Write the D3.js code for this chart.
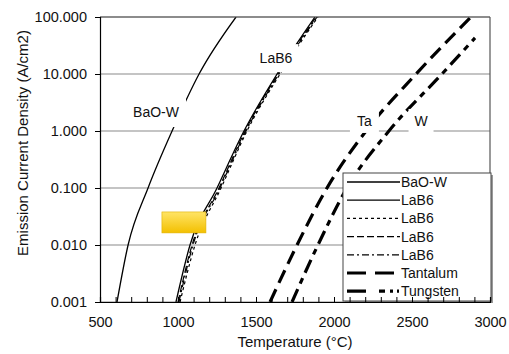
<!DOCTYPE html>
<html lang="en">
<head>
  <meta charset="UTF-8">
  <title>Emission Current Density vs Temperature</title>
  <script src="https://d3js.org/d3.v7.min.js"></script>
  <style>
    body { margin: 0; background: #fff; font-family: Arial, "Liberation Sans", sans-serif; }
    svg text { font-family: Arial, "Liberation Sans", sans-serif; fill: #111; }
  </style>
</head>
<body>
  <svg width="509" height="354"></svg>

  <script>
    // values (temperature in C at each current density)
    const jDecades = [0.001, 0.01, 0.1, 1, 10, 100];
    const tBaOW   = [609, 680, 808, 962, 1135, 1372];
    const tLaB6a  = [987, 1077, 1250, 1423, 1635, 1878];
    const tLaB6b  = [1013, 1109, 1276, 1442, 1654, 1897];
    const tLaB6c  = [1000, 1090, 1263, 1430, 1641, 1885];
    const tLaB6d  = [1006, 1096, 1269, 1436, 1647, 1891];
    const tTa     = [1590, 1763, 1955, 2205, 2526, 2878];
    const tW      = [1731, 1897, 2083, 2352, 2692, 2904];
    const jW      = [0.001, 0.01, 0.1, 1, 10, 42.9];

    const legendNames = ["BaO-W", "LaB6", "LaB6", "LaB6", "LaB6", "Tantalum", "Tungsten"];
    const xTicks = [500, 1000, 1500, 2000, 2500, 3000];
    const yTicks = [0.001, 0.01, 0.1, 1, 10, 100];

    const margin = { top: 17, right: 19, bottom: 52, left: 100 },
          width = 509 - margin.left - margin.right,
          height = 354 - margin.top - margin.bottom;

    const svg = d3.select("svg");
    const g = svg.append("g").attr("transform", `translate(${margin.left},${margin.top})`);

    const x = d3.scaleLinear().domain([500, 3000]).range([0, width]);
    const y = d3.scaleLog().domain([0.001, 100]).range([height, 0]);

    const series = [
      { t: tBaOW,  j: jDecades, w: 1.3, dash: null },
      { t: tLaB6a, j: jDecades, w: 1.3, dash: null },
      { t: tLaB6b, j: jDecades, w: 1.2, dash: "3,3" },
      { t: tLaB6c, j: jDecades, w: 1.2, dash: "7,3" },
      { t: tLaB6d, j: jDecades, w: 1.2, dash: "7,3,2,3" },
      { t: tTa,    j: jDecades, w: 3.2, dash: "14,7" },
      { t: tW,     j: jW,       w: 3.2, dash: "14,6,6,6" }
    ];

    // gridlines
    g.selectAll("line.grid")
      .data(yTicks)
      .enter().append("line")
      .attr("class", "grid")
      .attr("x1", 0).attr("x2", width)
      .attr("y1", d => y(d)).attr("y2", d => y(d))
      .attr("stroke", "#8a8a8a").attr("stroke-width", 1.2);

    g.append("clipPath").attr("id", "plotClip")
      .append("rect").attr("width", width).attr("height", height);

    const line = d3.line()
      .x(d => x(d[0]))
      .y(d => y(d[1]))
      .curve(d3.curveMonotoneX);

    const curves = g.append("g").attr("clip-path", "url(#plotClip)");
    series.forEach(s => {
      curves.append("path")
        .attr("d", line(s.t.map((t, i) => [t, s.j[i]])))
        .attr("fill", "none")
        .attr("stroke", "#000")
        .attr("stroke-width", s.w)
        .attr("stroke-dasharray", s.dash);
    });

    // data labels with white boxes
    const labels = [
      { text: "BaO-W", t: 859,  j: 2.15, bw: 60, bh: 30 },
      { text: "LaB6",  t: 1628, j: 19,   bw: 45, bh: 28 },
      { text: "Ta",    t: 2195, j: 1.5,  bw: 29, bh: 24 },
      { text: "W",     t: 2558, j: 1.5,  bw: 25, bh: 24 }
    ];
    labels.forEach(l => {
      g.append("rect")
        .attr("x", x(l.t) - l.bw / 2).attr("y", y(l.j) - l.bh / 2)
        .attr("width", l.bw).attr("height", l.bh)
        .attr("fill", "#fff");
      g.append("text")
        .attr("x", x(l.t)).attr("y", y(l.j) + 5)
        .attr("text-anchor", "middle")
        .attr("font-size", "14px")
        .text(l.text);
    });

    // yellow marker box
    const defs = svg.append("defs");
    const grad = defs.append("linearGradient").attr("id", "yel")
      .attr("x1", 0).attr("y1", 0).attr("x2", 0).attr("y2", 1);
    grad.append("stop").attr("offset", "0%").attr("stop-color", "#ffe466");
    grad.append("stop").attr("offset", "100%").attr("stop-color", "#f3c000");
    g.append("rect")
      .attr("x", x(897)).attr("y", y(0.038))
      .attr("width", x(1179) - x(897)).attr("height", y(0.0163) - y(0.038))
      .attr("fill", "url(#yel)")
      .attr("stroke", "#e0b000").attr("stroke-width", 0.6);

    // plot border (top / right)
    g.append("line").attr("x1", 0).attr("x2", width).attr("y1", 0).attr("y2", 0)
      .attr("stroke", "#555").attr("stroke-width", 1.2);
    g.append("line").attr("x1", width).attr("x2", width).attr("y1", 0).attr("y2", height)
      .attr("stroke", "#555").attr("stroke-width", 1.2);

    // legend
    const lg = g.append("g").attr("transform", `translate(${343 - margin.left},${173 - margin.top})`);
    lg.append("rect").attr("x", 2).attr("y", 2).attr("width", 148).attr("height", 128)
      .attr("fill", "#999");
    lg.append("rect").attr("width", 148).attr("height", 128)
      .attr("fill", "#fff").attr("stroke", "#444").attr("stroke-width", 1);
    legendNames.forEach((name, i) => {
      const yy = 9 + i * 18.2;
      lg.append("line")
        .attr("x1", 4).attr("x2", 57).attr("y1", yy).attr("y2", yy)
        .attr("stroke", "#000")
        .attr("stroke-width", series[i].w)
        .attr("stroke-dasharray", i === 5 ? "19,9" : i === 6 ? "19,13,6,5,3,4,2" : series[i].dash);
      lg.append("text")
        .attr("x", 58).attr("y", yy + 5)
        .attr("font-size", "14px")
        .text(name);
    });

    // axes
    const yAxis = g.append("g")
      .call(d3.axisLeft(y).tickValues(yTicks).tickFormat(d3.format(".3f")).tickSize(5).tickPadding(8));
    yAxis.selectAll("text").attr("font-size", "14.5px");
    yAxis.select(".domain").attr("stroke", "#000").attr("stroke-width", 1.2);

    const xAxis = g.append("g")
      .attr("transform", `translate(0,${height})`)
      .call(d3.axisBottom(x).tickValues(d3.range(500, 3001, 100)).tickSize(-5)
        .tickFormat(d => xTicks.includes(d) ? d : ""));
    xAxis.selectAll("text").attr("font-size", "14.5px").attr("y", 15);
    xAxis.select(".domain").attr("stroke", "#000").attr("stroke-width", 1.2);

    // axis titles
    g.append("text")
      .attr("x", width / 2).attr("y", height + 45)
      .attr("text-anchor", "middle")
      .attr("font-size", "15px")
      .text("Temperature (\u00b0C)");

    g.append("text")
      .attr("transform", "rotate(-90)")
      .attr("x", -(143 - margin.top)).attr("y", -72)
      .attr("text-anchor", "middle")
      .attr("font-size", "15px")
      .text("Emission Current Density (A/cm2)");
  </script>
</body>
</html>
